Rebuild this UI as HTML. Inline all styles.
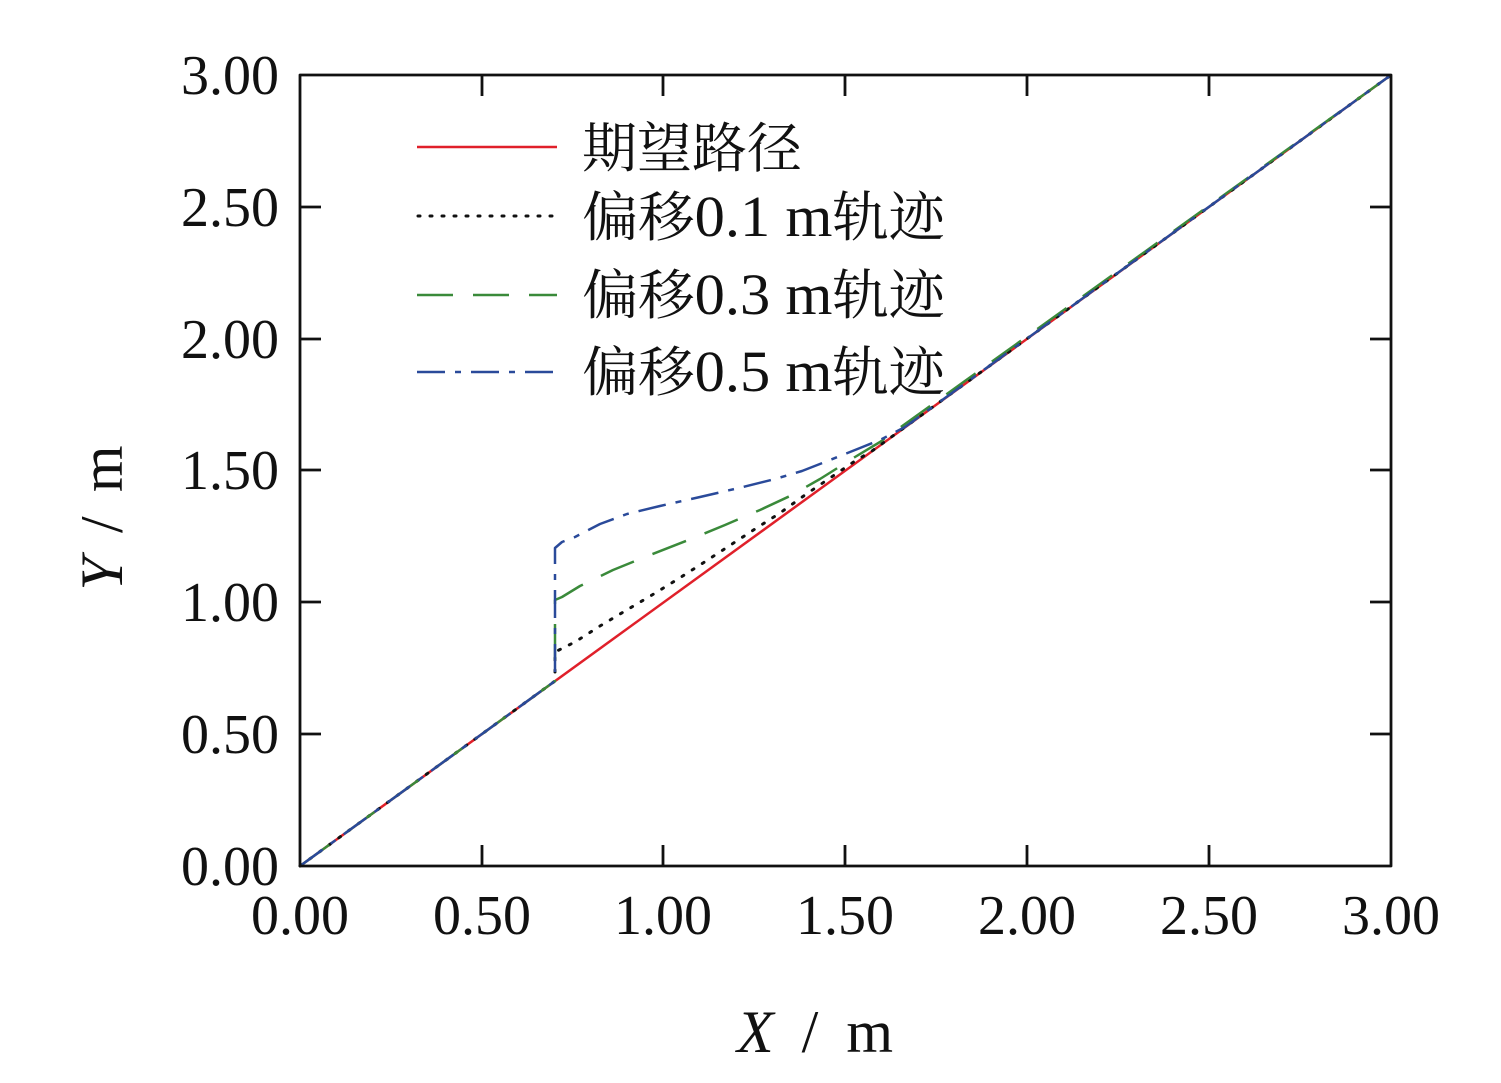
<!DOCTYPE html>
<html><head><meta charset="utf-8"><style>
html,body{margin:0;padding:0;background:#fff;}
svg{display:block;}
text{font-family:"Liberation Serif","Noto Serif CJK SC",serif;fill:#111;}
</style></head><body>
<svg width="1501" height="1083" viewBox="0 0 1501 1083" xmlns="http://www.w3.org/2000/svg">
<g fill="none" stroke-linejoin="round" stroke-linecap="butt">
<!-- series -->
<polyline stroke="#e0202a" stroke-width="2.5" points="300,866 1391,75"/>
<polyline stroke="#111" stroke-width="3" stroke-dasharray="2,10" stroke-linecap="round" points="300,866 555,681 555,652 575,642 600,626 625,611 652,595 678,579 703,563 729,546 755,529 780,513 805,495 830,478 855,461 872,451 1391,75"/>
<polyline stroke="#3a8a3a" stroke-width="2.5" stroke-dasharray="36,20" points="300,866 555,681 555,600 562,597 580,586 613,570 650,555 691,539 725,525 760,510 790,496 820,479 855,457 880,442 1391,75"/>
<polyline stroke="#2a4a9a" stroke-width="2.5" stroke-dasharray="28,10,6,10" points="300,866 555,681 555,548 562,542 575,537 600,524 627,514 660,506 700,497 743,487 775,479 802,471 830,460 860,448 880,440 905,427 1391,75"/>
<!-- frame -->
<rect x="300" y="75" width="1091" height="791" stroke="#111" stroke-width="2.8"/>
<g stroke="#111" stroke-width="2.8">
<path d="M482,866v-21M663,866v-21M845,866v-21M1027,866v-21M1209,866v-21"/>
<path d="M482,75v21M663,75v21M845,75v21M1027,75v21M1209,75v21"/>
<path d="M300,734h21M300,602h21M300,470h21M300,339h21M300,207h21"/>
<path d="M1391,734h-21M1391,602h-21M1391,470h-21M1391,339h-21M1391,207h-21"/>
</g>
<!-- legend lines -->
<line x1="417" y1="147" x2="557" y2="147" stroke="#e0202a" stroke-width="2.5"/>
<line x1="418" y1="216" x2="557" y2="216" stroke="#111" stroke-width="3" stroke-dasharray="2,10" stroke-linecap="round"/>
<line x1="417" y1="295" x2="557" y2="295" stroke="#3a8a3a" stroke-width="2.5" stroke-dasharray="36,20"/>
<line x1="417" y1="372" x2="557" y2="372" stroke="#2a4a9a" stroke-width="2.5" stroke-dasharray="28,10,6,10"/>
</g>
<g font-size="56">
<g text-anchor="end">
<text x="279" y="885">0.00</text>
<text x="279" y="753">0.50</text>
<text x="279" y="621">1.00</text>
<text x="279" y="489">1.50</text>
<text x="279" y="358">2.00</text>
<text x="279" y="226">2.50</text>
<text x="279" y="94">3.00</text>
</g>
<g text-anchor="middle">
<text x="300" y="934">0.00</text>
<text x="482" y="934">0.50</text>
<text x="663" y="934">1.00</text>
<text x="845" y="934">1.50</text>
<text x="1027" y="934">2.00</text>
<text x="1209" y="934">2.50</text>
<text x="1391" y="934">3.00</text>
</g>
</g>
<g font-size="54">
<text x="582" y="167" textLength="220" lengthAdjust="spacingAndGlyphs">期望路径</text>
<text x="582" y="236" textLength="363" lengthAdjust="spacingAndGlyphs">偏移<tspan font-size="58">0.1 m</tspan>轨迹</text>
<text x="582" y="314" textLength="363" lengthAdjust="spacingAndGlyphs">偏移<tspan font-size="58">0.3 m</tspan>轨迹</text>
<text x="582" y="391" textLength="363" lengthAdjust="spacingAndGlyphs">偏移<tspan font-size="58">0.5 m</tspan>轨迹</text>
</g>
<text x="815" y="1052" font-size="60" text-anchor="middle" textLength="156" lengthAdjust="spacing"><tspan font-style="italic">X</tspan> / m</text>
<text transform="translate(122,518) rotate(-90)" font-size="60" text-anchor="middle" textLength="145" lengthAdjust="spacing"><tspan font-style="italic">Y</tspan> / m</text>
</svg>
</body></html>
